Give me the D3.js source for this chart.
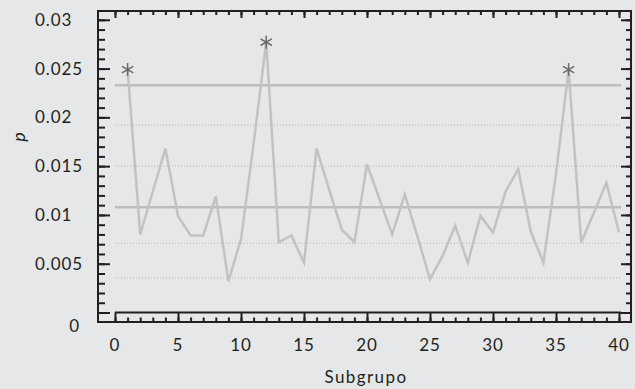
<!DOCTYPE html>
<html><head><meta charset="utf-8">
<script src="https://cdn.jsdelivr.net/npm/d3@7"></script>
<style>
html,body{margin:0;padding:0;background:#e6e7e8;}
svg{display:block;}
text{font-family:"Lato","Noto Sans",sans-serif;fill:#231f20;}
</style></head>
<body>
<svg id="chart" width="635" height="389"></svg>
<script>
const subgroups = [1,2,3,4,5,6,7,8,9,10,11,12,13,14,15,16,17,18,19,20,21,22,23,24,25,26,27,28,29,30,31,32,33,34,35,36,37,38,39,40];
const pValues = [0.0249,0.0080,0.0124,0.0168,0.0099,0.0079,0.0079,0.0119,0.0032,0.0075,
                 0.0173,0.0277,0.0072,0.0079,0.0051,0.0168,0.0126,0.0085,0.0072,0.0152,
                 0.0116,0.0080,0.0121,0.0078,0.0034,0.0058,0.0089,0.0051,0.0099,0.0082,
                 0.0124,0.0147,0.0083,0.0051,0.0142,0.0249,0.0072,0.0102,0.0133,0.0082];
const centerLine = 0.0108;
const upperLimit = 0.0233;
const zoneLines = [0.0192, 0.0150, 0.0071, 0.00355];
const xTicks = [0,5,10,15,20,25,30,35,40];
const yTicks = [0,0.005,0.01,0.015,0.02,0.025,0.03];
const yTickLabels = ["0","0.005","0.01","0.015","0.02","0.025","0.03"];

const svg = d3.select("#chart");
const frame = {left:98, top:11, right:631, bottom:322};
const x = d3.scaleLinear().domain([0,40]).range([115,619]);
const y = d3.scaleLinear().domain([0,0.03]).range([312.5,19.8]);
const ink = "#231f20";

svg.append("rect").attr("x",frame.left).attr("y",frame.top)
  .attr("width",frame.right-frame.left).attr("height",frame.bottom-frame.top)
  .attr("fill","none").attr("stroke",ink).attr("stroke-width",2);

const minorY = d3.range(0,31).map(i=>i/1000);
const minorX = d3.range(0,41);

function ruler(axis, tr){
  svg.append("g").attr("transform",tr).call(axis)
    .call(g=>g.select(".domain").remove())
    .call(g=>g.selectAll("line").attr("stroke",ink).attr("stroke-width",2));
}
ruler(d3.axisRight(y).tickValues(minorY).tickSize(7).tickFormat(""), `translate(${frame.left},0)`);
ruler(d3.axisRight(y).tickValues(yTicks).tickSize(12).tickFormat(""), `translate(${frame.left},0)`);
ruler(d3.axisLeft(y).tickValues(minorY).tickSize(5).tickFormat(""), `translate(${frame.right},0)`);
ruler(d3.axisLeft(y).tickValues(yTicks).tickSize(10).tickFormat(""), `translate(${frame.right},0)`);
ruler(d3.axisBottom(x).tickValues(minorX).tickSize(4).tickFormat(""), `translate(0,${frame.top})`);
ruler(d3.axisBottom(x).tickValues(xTicks).tickSize(7).tickFormat(""), `translate(0,${frame.top})`);
svg.append("line").attr("x1",x(0)).attr("x2",x(40)+2).attr("y1",y(0)).attr("y2",y(0))
  .attr("stroke",ink).attr("stroke-width",2);
ruler(d3.axisTop(x).tickValues(minorX).tickSize(4.5).tickFormat(""), `translate(0,${frame.bottom})`);
ruler(d3.axisTop(x).tickValues(xTicks).tickSize(frame.bottom-y(0)).tickFormat(""), `translate(0,${frame.bottom})`);

svg.append("g").selectAll("text").data(yTicks).join("text")
  .attr("x",d=> d===0 ? 80 : 35)
  .attr("y",d=> d===0 ? y(d)+19 : y(d)+6)
  .attr("text-anchor",d=> d===0 ? "end" : "start")
  .attr("font-size",17).attr("letter-spacing",0.9)
  .text((d,i)=>yTickLabels[i]);
svg.append("g").selectAll("text").data(xTicks).join("text")
  .attr("x",d=>x(d)).attr("y",351)
  .attr("text-anchor","middle").attr("font-size",17).attr("letter-spacing",0.9)
  .text(d=>d);
svg.append("text").attr("x",366).attr("y",383).attr("text-anchor","middle")
  .attr("font-size",17).attr("letter-spacing",1.4).text("Subgrupo");
svg.append("text").attr("transform","translate(25,137) rotate(-90)")
  .attr("text-anchor","middle").attr("font-size",18).attr("font-style","italic").text("p");

svg.append("g").selectAll("line").data(zoneLines).join("line")
  .attr("x1",x(0)).attr("x2",x(40)+2).attr("y1",d=>y(d)).attr("y2",d=>y(d))
  .attr("stroke","#b3b3b3").attr("stroke-width",1).attr("stroke-dasharray","1,2");
svg.append("g").selectAll("line").data([upperLimit,centerLine]).join("line")
  .attr("x1",x(0)).attr("x2",x(40)+2).attr("y1",d=>y(d)).attr("y2",d=>y(d))
  .attr("stroke","#bdbdbd").attr("stroke-width",2.5);

const pts = subgroups.map((s,i)=>({s, p:pValues[i]}));
svg.append("path").datum(pts)
  .attr("fill","none").attr("stroke","#c2c2c2").attr("stroke-width",2.5)
  .attr("d",d3.line().x(d=>x(d.s)).y(d=>y(d.p)));
svg.append("g").selectAll("path").data(pts.filter(d=>d.p>upperLimit)).join("path")
  .attr("transform",d=>`translate(${x(d.s)},${y(d.p)})`)
  .attr("d",d3.symbol().type(d3.symbolAsterisk).size(120))
  .attr("fill","none").attr("stroke","#6a6b6d").attr("stroke-width",1.5);
</script>
</body></html>
